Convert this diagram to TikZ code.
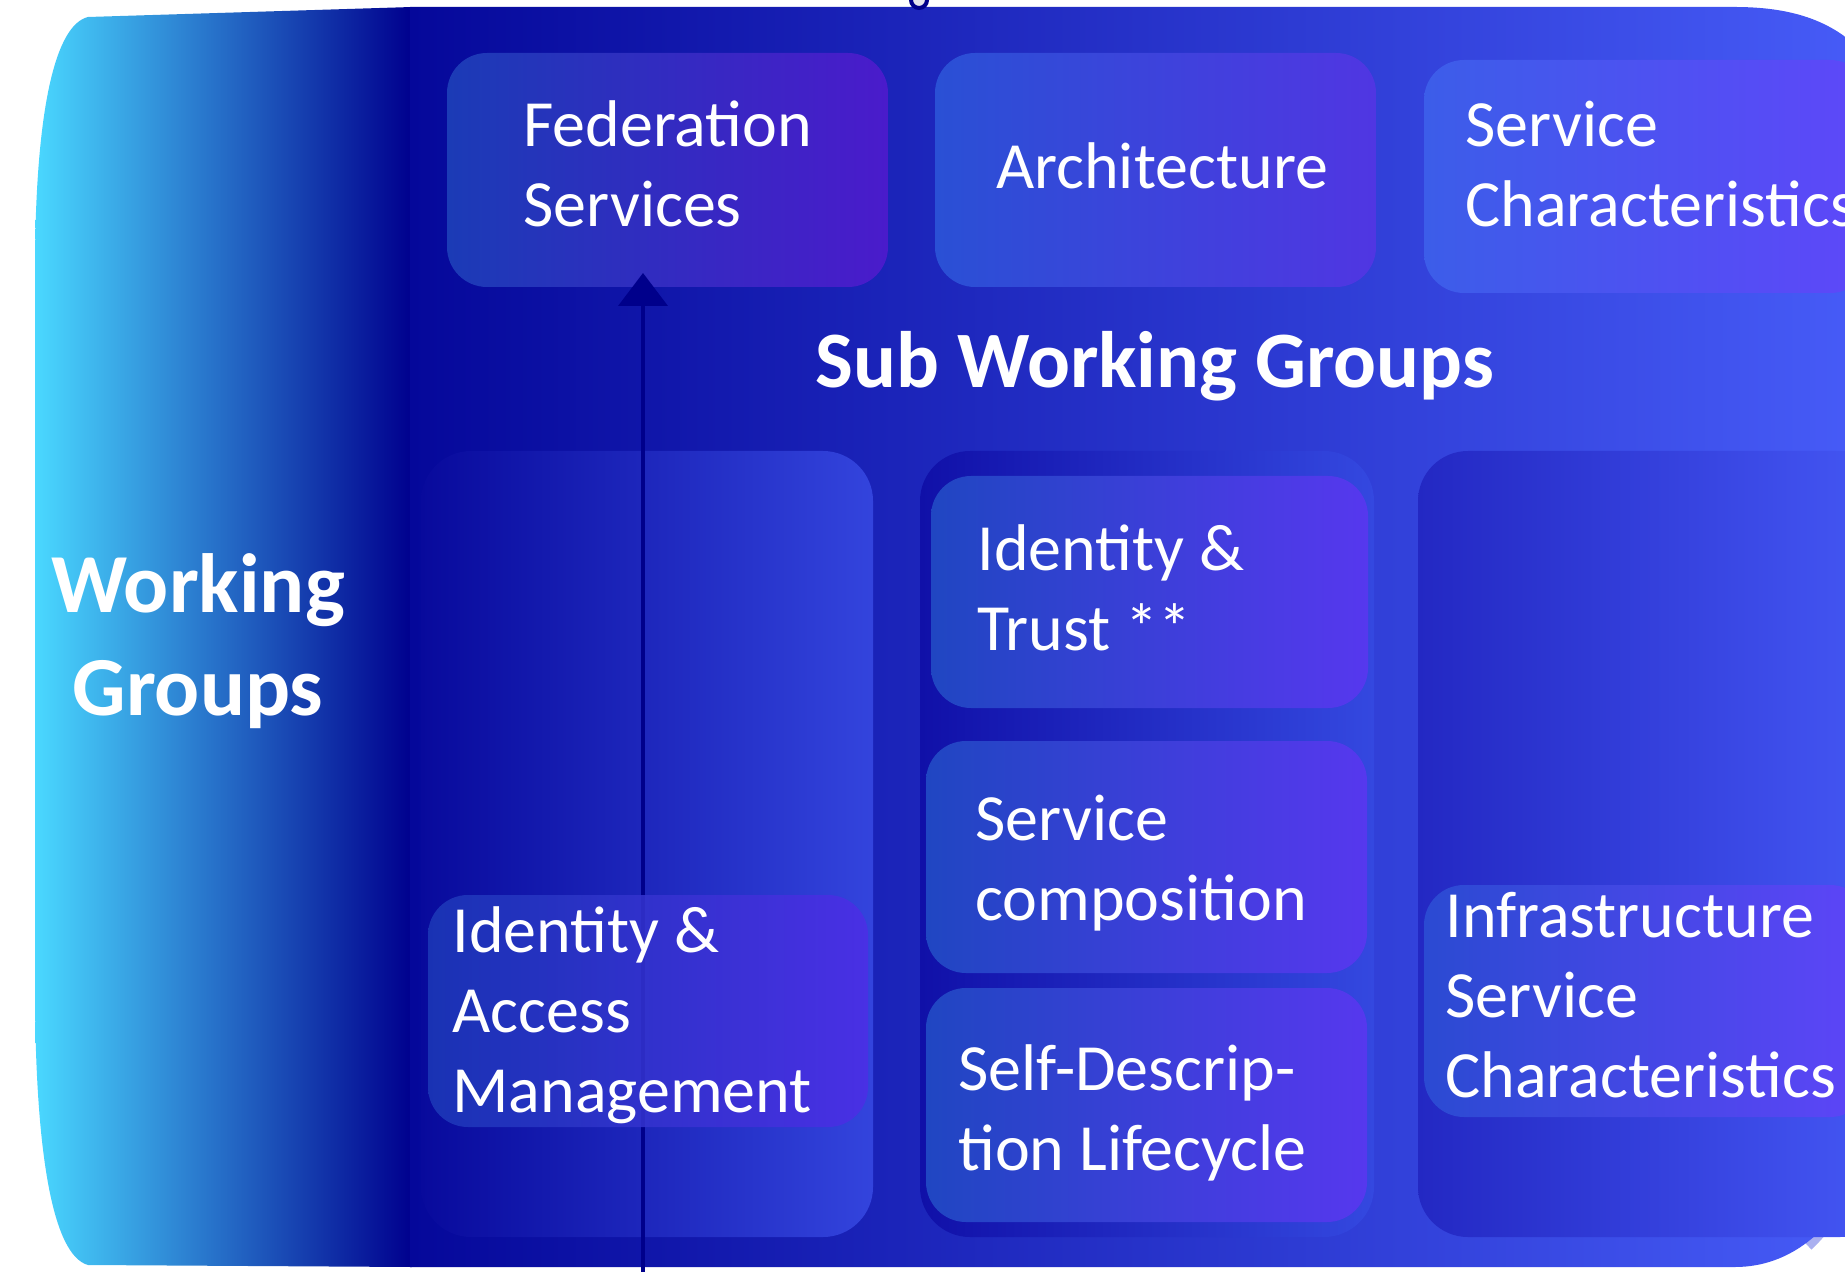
\documentclass[tikz,border=0pt]{standalone}
\usepackage{fontspec}
\setmainfont{Carlito}
\usetikzlibrary{arrows.meta,fit}
\definecolor{wgL}{HTML}{4AD8FF}
\definecolor{wgR}{HTML}{00008E}
\definecolor{panelL}{HTML}{05089A}
\definecolor{panelR}{HTML}{475CF8}
\definecolor{fedL}{HTML}{1B3BB6}
\definecolor{fedR}{HTML}{4A1BCB}
\definecolor{archL}{HTML}{2A50D5}
\definecolor{archR}{HTML}{5036E2}
\definecolor{svcL}{HTML}{3C5DE9}
\definecolor{svcR}{HTML}{5E47F9}
\definecolor{colaL}{HTML}{080A9C}
\definecolor{colaR}{HTML}{3344DD}
\definecolor{colbL}{HTML}{1010A8}
\definecolor{colbR}{HTML}{3448E0}
\definecolor{colcL}{HTML}{2328C3}
\definecolor{colcR}{HTML}{4558F5}
\definecolor{iamL}{HTML}{1C3AB8}
\definecolor{iamR}{HTML}{4E2DE6}
\definecolor{inL}{HTML}{2046C2}
\definecolor{inR}{HTML}{5638EE}
\definecolor{infL}{HTML}{2B4AD2}
\definecolor{infR}{HTML}{5E45F8}
\definecolor{navy}{HTML}{00008B}
\definecolor{lav}{HTML}{AAB0F0}
\definecolor{portfill}{HTML}{E4E4EC}
\begin{document}
\begin{tikzpicture}[x=0.5pt,y=-0.5pt,
  boxshape/.style={rounded corners=20pt, inner sep=0pt, draw=none},
  colshape/.style={rounded corners=25pt, inner sep=0pt, draw=none},
  lbl/.style={text=white, font=\fontsize{33}{40}\selectfont, align=left, inner sep=0pt, anchor=base west},
  ttl/.style={text=white, font=\fontsize{41}{51.5}\selectfont\bfseries, align=center, inner sep=0pt, anchor=base},
  arrowline/.style={draw=navy, line width=2pt, -{Triangle[width=24.5pt,length=16.5pt]}}
]
\useasboundingbox (0,0) rectangle (1845,1272);
% shadow crescent at bottom right
\draw[lav, line width=5pt] (1852,1150) .. controls (1848,1195) and (1835,1220) .. (1808,1246);
% working groups band
\path[left color=wgL, right color=wgR] (412,7) -- (88,17) .. controls (55,25) and (36,110) .. (35,260) -- (35,1000) .. controls (36,1150) and (52,1255) .. (88,1265) -- (412,1267) -- cycle;
% main panel
\path[left color=panelL, right color=panelR] (410,7) -- (1735,7) .. controls (1800,7) and (1840,25) .. (1870,60) -- (1870,1150) .. controls (1840,1230) and (1790,1267) .. (1735,1267) -- (410,1267) -- cycle;
% port circle at the top
\node[circle, draw=navy, line width=2pt, fill=portfill, minimum size=8pt, inner sep=0pt] (port) at (919,0) {};
% top row boxes
\node[boxshape, fit={(447,53) (888,287)}, left color=fedL, right color=fedR] (fed) {};
\node[boxshape, fit={(935,53) (1376,287)}, left color=archL, right color=archR] (arch) {};
\node[boxshape, fit={(1424,60) (1870,293)}, left color=svcL, right color=svcR] (svc) {};
% column containers
\node[colshape, fit={(421,451) (873,1237)}, left color=colaL, right color=colaR] (cola) {};
\node[colshape, fit={(920,451) (1374,1237)}, left color=colbL, right color=colbR] (colb) {};
\node[colshape, fit={(1418,451) (1890,1237)}, left color=colcL, right color=colcR] (colc) {};
% arrow
\coordinate (arrS) at (643,1290);
\coordinate (arrE) at (643,273);
\draw[arrowline] (arrS) -- (arrE);
% inner boxes
\node[boxshape, fit={(428,895) (868,1127)}, left color=iamL, right color=iamR, fill opacity=0.85] (iam) {};
\node[boxshape, fit={(931,476) (1368,708)}, left color=inL, right color=inR] (idt) {};
\node[boxshape, fit={(926,741) (1367,973)}, left color=inL, right color=inR] (comp) {};
\node[boxshape, fit={(926,988) (1367,1222)}, left color=inL, right color=inR] (sd) {};
\node[boxshape, fit={(1424,885) (1870,1117)}, left color=infL, right color=infR] (infra) {};
% texts (anchor = baseline of the last line)
\node[lbl] (tfed) at (523,227) {Federation\\Services};
\node[lbl, anchor=base] (tarch) at (1162,189) {Architecture};
\node[lbl] (tsvc) at (1465,227) {Service\\Characteristics};
\node[ttl, font=\fontsize{40}{51.5}\selectfont\bfseries] (tsub) at (1155,388) {Sub Working Groups};
\node[ttl, font=\fontsize{42}{51.5}\selectfont\bfseries] (twg) at (198,715) {Working\\Groups};
\node[lbl] (tidt) at (977,650) {Identity \&\\Trust **};
\node[lbl] (tcomp) at (975,920) {Service\\composition};
\node[lbl] (tsd) at (958,1170) {Self-Descrip-\\tion Lifecycle};
\node[lbl] (tiam) at (452,1112) {Identity \&\\Access\\Management};
\node[lbl] (tinfra) at (1445,1097) {Infrastructure\\Service\\Characteristics};
\end{tikzpicture}
\end{document}
